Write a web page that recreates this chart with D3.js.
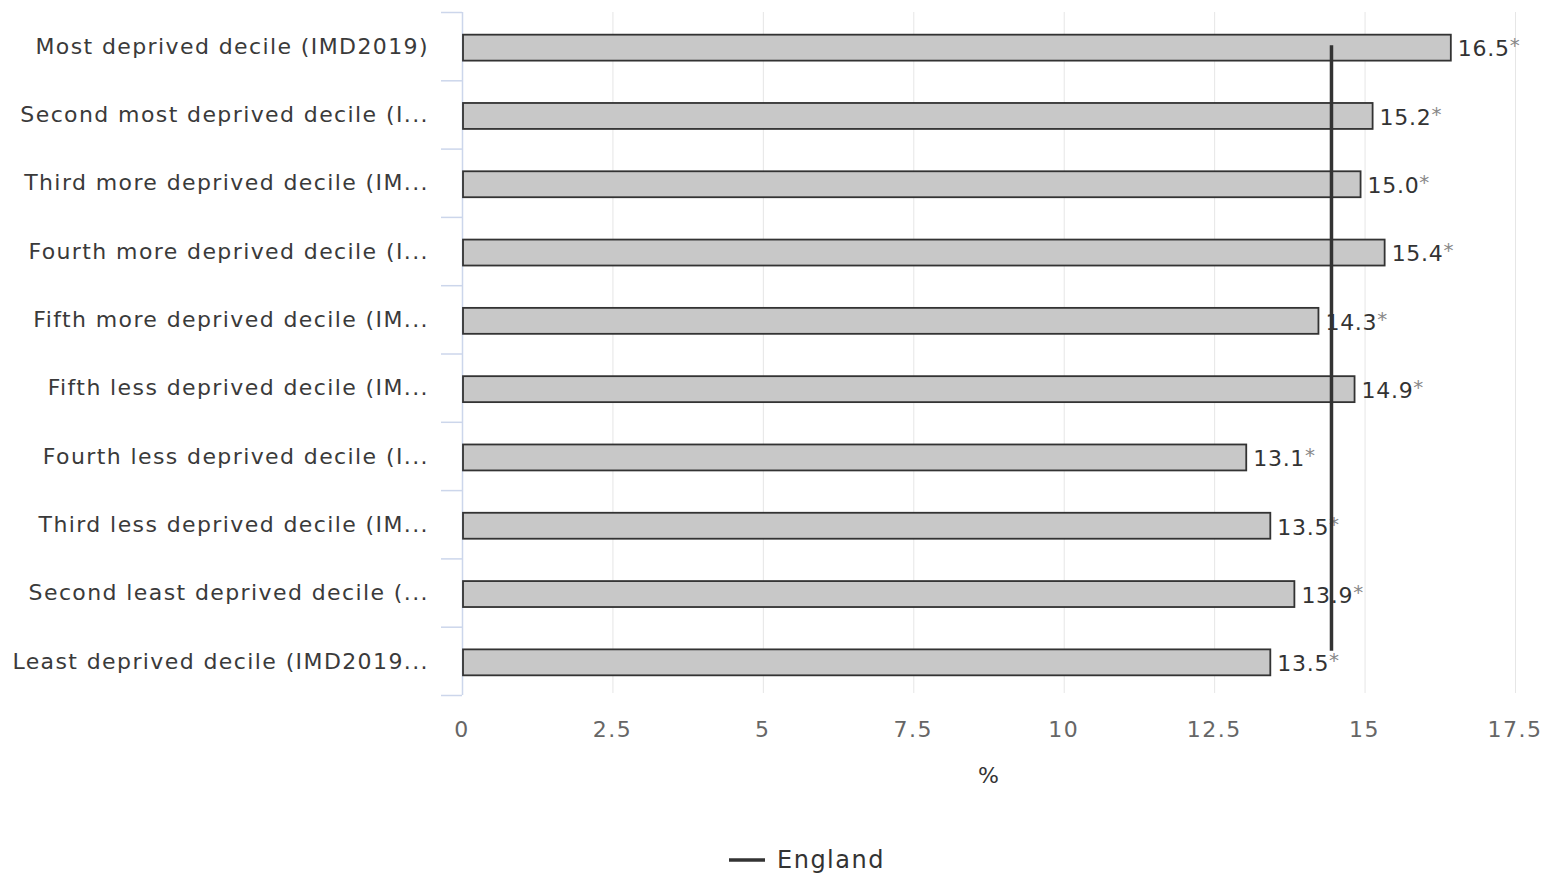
<!DOCTYPE html>
<html>
<head>
<meta charset="utf-8">
<script src="https://cdn.jsdelivr.net/npm/d3@7"></script>
<style>
    body { margin: 0; background: #fff; }
    svg { font-family: "DejaVu Sans", sans-serif; }
</style>
</head>
<body>
<div id="chart"></div>
<script>
// data
const categories = [
    "Most deprived decile (IMD2019)",
    "Second most deprived decile (I...",
    "Third more deprived decile (IM...",
    "Fourth more deprived decile (I...",
    "Fifth more deprived decile (IM...",
    "Fifth less deprived decile (IM...",
    "Fourth less deprived decile (I...",
    "Third less deprived decile (IM...",
    "Second least deprived decile (...",
    "Least deprived decile (IMD2019..."
];
const values = [16.5, 15.2, 15.0, 15.4, 14.3, 14.9, 13.1, 13.5, 13.9, 13.5];
const englandValue = 14.5;
const xTicks = [0, 2.5, 5, 7.5, 10, 12.5, 15, 17.5];

let width = 1544, height = 876;
let margin = {top: 12, right: 29, bottom: 181, left: 462};
let inset = 4; // bars end a few px short of the grid, like the source render

let svg = d3.select("#chart").append("svg")
    .attr("width", width)
    .attr("height", height);

let x = d3.scaleLinear()
    .domain([0, 17.5])
    .range([margin.left, width - margin.right]);

let y = d3.scaleBand()
    .domain(categories)
    .range([margin.top, height - margin.bottom])
    .paddingInner(0.62)
    .paddingOuter(0.31);

let plotBottom = height - margin.bottom;

// grid lines
svg.append("g")
    .selectAll("line")
    .data(xTicks.slice(1))
    .enter()
    .append("line")
    .attr("x1", d => x(d) + 0.5)
    .attr("x2", d => x(d) + 0.5)
    .attr("y1", margin.top)
    .attr("y2", plotBottom - 2)
    .style("stroke", "#e6e6e6")
    .style("stroke-width", 1);

// x tick labels
svg.append("g")
    .selectAll("text")
    .data(xTicks)
    .enter()
    .append("text")
    .attr("x", d => x(d))
    .attr("y", plotBottom + 42)
    .attr("text-anchor", "middle")
    .style("font-size", "22px")
    .style("letter-spacing", "1.5px")
    .style("fill", "#666")
    .text(d => d);

// axis title
svg.append("text")
    .attr("x", (x.range()[0] + x.range()[1]) / 2)
    .attr("y", plotBottom + 88)
    .attr("text-anchor", "middle")
    .style("font-size", "22px")
    .style("fill", "#333")
    .text("%");

// y axis line and ticks
let step = y.step();
let boundaries = d3.range(categories.length + 1).map(i => margin.top + i * step);
svg.append("line")
    .attr("x1", margin.left + 0.5)
    .attr("x2", margin.left + 0.5)
    .attr("y1", margin.top)
    .attr("y2", plotBottom)
    .style("stroke", "#ccd6eb")
    .style("stroke-width", 1.5);
svg.append("g")
    .selectAll("line")
    .data(boundaries)
    .enter()
    .append("line")
    .attr("x1", margin.left - 21)
    .attr("x2", margin.left)
    .attr("y1", d => d + 0.5)
    .attr("y2", d => d + 0.5)
    .style("stroke", "#ccd6eb")
    .style("stroke-width", 1.5);

// category labels
svg.append("g")
    .selectAll("text")
    .data(categories)
    .enter()
    .append("text")
    .attr("x", margin.left - 33)
    .attr("y", d => y(d) + y.bandwidth() / 2)
    .attr("dy", "0.35em")
    .attr("text-anchor", "end")
    .style("font-size", "22px")
    .style("letter-spacing", "1.4px")
    .style("fill", "#3a3a3a")
    .text(d => d);

// bars
svg.append("g")
    .selectAll("rect")
    .data(values)
    .enter()
    .append("rect")
    .attr("x", x(0) + 1)
    .attr("y", (d, i) => y(categories[i]) + 1.5)
    .attr("width", d => x(d) - x(0) - 1 - inset)
    .attr("height", y.bandwidth())
    .style("fill", "#c8c8c8")
    .style("stroke", "#333")
    .style("stroke-width", 1.8);

// value labels
let vl = svg.append("g")
    .selectAll("text")
    .data(values)
    .enter()
    .append("text")
    .attr("x", d => x(d) - inset + 7)
    .attr("y", (d, i) => y(categories[i]) + y.bandwidth() / 2 + 1.5)
    .attr("dy", "0.4em")
    .style("font-size", "22px")
    .style("letter-spacing", "0.7px")
    .style("fill", "#333");
vl.append("tspan").text(d => d.toFixed(1));
vl.append("tspan").style("fill", "#888").style("font-size", "20px").attr("dy", "-0.2em").text("*");

// England line
svg.append("line")
    .attr("x1", x(englandValue) - inset + 1)
    .attr("x2", x(englandValue) - inset + 1)
    .attr("y1", y(categories[0]) + y.bandwidth() / 2 - 1)
    .attr("y2", y(categories[categories.length - 1]) + y.bandwidth() / 2 - 10)
    .style("stroke", "#333")
    .style("stroke-width", 3.5);

// legend
let legend = svg.append("g").attr("transform", "translate(729,860)");
legend.append("line")
    .attr("x1", 0).attr("x2", 36)
    .attr("y1", 0).attr("y2", 0)
    .style("stroke", "#333")
    .style("stroke-width", 3.5);
legend.append("text")
    .attr("x", 48)
    .attr("y", 0)
    .attr("dy", "0.35em")
    .style("font-size", "24px")
    .style("letter-spacing", "1.5px")
    .style("fill", "#333")
    .text("England");
</script>
</body>
</html>
